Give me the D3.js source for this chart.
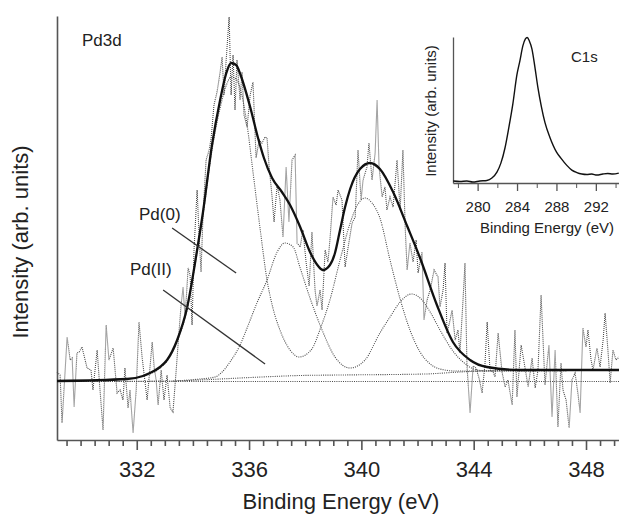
<!DOCTYPE html>
<html>
<head>
<meta charset="utf-8">
<script src="https://cdn.jsdelivr.net/npm/d3@7"></script>
<style>
  body { margin: 0; background: #fff; }
  svg { display: block; }
  text { font-family: "Liberation Sans", Arial, sans-serif; fill: #222; }
</style>
</head>
<body>
<svg id="chart" width="619" height="515"></svg>
<script>
// Pd3d raw spectrum (binding energy in eV, intensity in arb. units)
const rawEnergy = [329.16,329.27,329.34,329.52,329.63,329.70,329.77,329.87,329.95,330.05,330.23,330.37,330.44,330.59,330.66,330.80,330.91,331.01,331.16,331.30,331.41,331.51,331.58,331.69,331.76,331.87,331.98,332.08,332.19,332.37,332.55,332.62,332.69,332.76,332.87,332.97,333.08,333.19,333.29,333.40,333.51,333.58,333.65,333.72,333.83,333.90,333.97,334.04,334.15,334.22,334.29,334.36,334.47,334.58,334.65,334.75,334.86,334.97,335.04,335.11,335.18,335.29,335.36,335.43,335.50,335.57,335.68,335.75,335.82,335.93,336.04,336.14,336.25,336.36,336.46,336.57,336.64,336.71,336.82,336.89,337.00,337.10,337.21,337.32,337.42,337.53,337.64,337.71,337.82,337.92,338.03,338.14,338.24,338.35,338.42,338.53,338.60,338.71,338.81,338.88,338.99,339.10,339.17,339.31,339.42,339.53,339.67,339.78,339.88,339.99,340.06,340.20,340.27,340.38,340.49,340.56,340.63,340.74,340.84,340.91,341.02,341.13,341.27,341.38,341.48,341.56,341.63,341.73,341.84,341.95,342.02,342.16,342.23,342.34,342.45,342.59,342.73,342.80,342.91,342.98,343.05,343.16,343.23,343.34,343.44,343.51,343.62,343.69,343.76,343.87,343.98,344.08,344.19,344.30,344.40,344.48,344.58,344.69,344.76,344.87,345.01,345.12,345.22,345.37,345.47,345.54,345.69,345.83,345.94,346.08,346.19,346.29,346.40,346.54,346.68,346.79,346.90,347.00,347.11,347.18,347.29,347.40,347.50,347.61,347.72,347.79,347.89,348.00,348.07,348.18,348.25,348.39,348.50,348.61,348.68,348.78,348.86,348.96,349.07,349.18];
const rawCounts = [68,65,17,103,80,82,33,87,88,93,72,70,50,90,62,10,115,80,92,47,50,40,72,32,50,7,50,118,83,40,98,73,60,35,70,40,65,32,28,68,110,135,153,122,172,165,115,190,250,205,168,225,280,290,302,335,348,368,383,345,378,423,345,385,330,380,340,368,325,313,345,358,282,300,297,303,302,275,243,218,255,240,203,273,218,280,285,197,193,210,178,154,208,150,134,150,130,190,178,200,243,235,250,240,173,193,217,223,290,240,260,273,297,260,287,340,273,243,253,230,243,233,280,230,290,213,170,197,178,200,167,188,120,140,150,170,163,133,150,177,107,120,130,100,110,87,140,177,75,27,74,72,62,47,75,118,70,68,63,107,68,53,60,35,110,43,95,72,53,82,52,70,145,55,95,23,90,13,77,50,40,12,60,67,45,27,112,93,110,80,70,92,73,100,127,90,57,90,80,83];

// fitted envelope
const envEnergy = [329.16,331.65,332.22,332.47,332.83,333.08,333.44,333.79,334.15,334.36,334.68,334.97,335.18,335.36,335.54,335.71,336.03,336.32,336.53,336.82,337.17,337.46,337.82,338.17,338.46,338.63,338.88,339.06,339.24,339.42,339.60,339.95,340.31,340.66,341.13,341.63,342.09,342.69,343.26,343.87,344.47,345.65,349.18];
const envCounts = [59,61,64,67,73,80,100,132,190,228,295,340,366,377,375,364,334,302,282,262,248,235,213,188,174,170,175,187,210,233,251,271,277,271,248,214,182,135,98,80,73,70,70];

// Pd(0) doublet component
const pd0Energy = [332.47,332.83,333.08,333.44,333.79,334.15,334.36,334.68,334.97,335.18,335.36,335.54,335.68,335.93,336.14,336.39,336.64,336.85,337.10,337.46,337.78,338.21,338.56,338.88,339.24,339.60,339.88,340.13,340.38,340.66,341.02,341.38,341.73,342.09,342.45,342.80,343.34,344.58,349.18];
const pd0Counts = [66,72,79,99,130,188,225,290,332,354,363,361,352,315,268,212,160,132,110,90,83,90,113,140,180,217,236,242,237,222,180,141,110,88,76,71,69,69,70];

// Pd(II) doublet component
const pd2Energy = [333.29,334.25,334.79,335.04,335.32,335.68,335.93,336.28,336.64,337.00,337.28,337.57,337.82,338.17,338.60,339.06,339.60,340.13,340.66,341.02,341.38,341.79,342.09,342.45,342.80,343.26,343.62,344.12,344.58,349.18];
const pd2Counts = [59,61,63,68,78,95,112,137,160,188,197,193,172,142,110,83,72,80,107,123,138,146,142,128,110,89,78,70,69,70];

// Shirley background and linear baseline
const bgEnergy = [329.16,333.29,334.25,334.97,336.04,336.85,337.82,339.24,342.27,343.51,344.94,349.18];
const bgCounts = [58.5,59,60,61,62.5,63.5,64.5,65,66,68,69.5,70];
const baseEnergy = [329.16,349.18];
const baseCounts = [58.5,58.5];

// inset: C1s
const c1sEnergy = [277.53,278.2,278.91,279.52,280.23,280.94,281.45,281.96,282.36,282.77,283.17,283.58,283.99,284.29,284.59,284.85,285.03,285.25,285.51,285.81,286.12,286.47,286.83,287.33,288.01,288.45,289.03,289.56,290.07,290.58,291.08,291.59,292.1,292.71,293.21,293.72,294.33];
const c1sCounts = [2,1.5,2,1,2,2.5,5,11,20,35,56,80,109,123,138,145,146.5,143,135,117,96,77,61,46,31,25,18,13,10.5,9,8.5,9,8,9,9.5,9,10];

// ticks
const mainMajor = [332,336,340,344,348];
const mainMinor = [329.5,330,330.5,331,331.5,332.5,333,333.5,334,334.5,335,335.5,336.5,337,337.5,338,338.5,339,339.5,340.5,341,341.5,342,342.5,343,343.5,344.5,345,345.5,346,346.5,347,347.5,348.5,349];
const insetMajor = [280,284,288,292];
const insetMinor = [278,282,286,290,294];

// labels and leader lines (data coordinates)
const labels = [
  { text: "Pd3d", e: 330.05, c: 394 },
  { text: "Pd(0)", e: 332.08, c: 220 },
  { text: "Pd(II)", e: 331.76, c: 165 }
];
const leaders = [
  { e1: 333.26, c1: 212, e2: 335.54, c2: 167 },
  { e1: 332.94, c1: 150, e2: 336.57, c2: 76 }
];

const svg = d3.select("#chart");

// main scales
const x = d3.scaleLinear().domain([329.16, 349.2]).range([57, 619.7]);
const y = d3.scaleLinear().domain([0, 424]).range([440, 16]);

const zip = (e, c) => e.map((v, i) => [v, c[i]]);
const line = d3.line().x(d => x(d[0])).y(d => y(d[1]));
const smooth = d3.line().x(d => x(d[0])).y(d => y(d[1])).curve(d3.curveMonotoneX);

// axes
const xAxis = svg.append("g")
  .attr("transform", `translate(0,${y(0)})`)
  .call(d3.axisBottom(x).tickValues(mainMajor).tickFormat(d3.format("d"))
    .tickSize(10).tickSizeOuter(0).tickPadding(11));
svg.append("g")
  .attr("transform", `translate(0,${y(0)})`)
  .call(d3.axisBottom(x).tickValues(mainMinor).tickFormat("").tickSize(6).tickSizeOuter(0))
  .select(".domain").remove();
svg.append("g")
  .attr("transform", `translate(${x(329.16)},0)`)
  .call(d3.axisLeft(y).tickValues([]).tickSizeOuter(0));

svg.selectAll(".domain, .tick line").attr("stroke", "#555").attr("stroke-width", 1.6);
xAxis.selectAll("text").style("font-size", "22px").attr("fill", "#222");

// axis titles
svg.append("text")
  .attr("x", 341).attr("y", 509)
  .attr("text-anchor", "middle")
  .style("font-size", "22px")
  .text("Binding Energy (eV)");
svg.append("text")
  .attr("transform", "translate(28,242) rotate(-90)")
  .attr("text-anchor", "middle")
  .style("font-size", "22px")
  .text("Intensity (arb. units)");

// raw data
svg.append("path")
  .datum(zip(rawEnergy, rawCounts))
  .attr("d", line)
  .attr("fill", "none")
  .attr("stroke", "#4a4a4a")
  .attr("stroke-width", 1.1)
  .attr("stroke-dasharray", "1,1");

// backgrounds and components
[[baseEnergy, baseCounts], [bgEnergy, bgCounts], [pd0Energy, pd0Counts], [pd2Energy, pd2Counts]]
  .forEach(([e, c]) => {
    svg.append("path")
      .datum(zip(e, c))
      .attr("d", smooth)
      .attr("fill", "none")
      .attr("stroke", "#4a4a4a")
      .attr("stroke-width", 1.1)
      .attr("stroke-dasharray", "1,1.2");
  });

// envelope
svg.append("path")
  .datum(zip(envEnergy, envCounts))
  .attr("d", smooth)
  .attr("fill", "none")
  .attr("stroke", "#111")
  .attr("stroke-width", 2.3);

// leader lines and labels
svg.selectAll(".leader")
  .data(leaders)
  .enter().append("line")
  .attr("x1", d => x(d.e1)).attr("y1", d => y(d.c1))
  .attr("x2", d => x(d.e2)).attr("y2", d => y(d.c2))
  .attr("stroke", "#333")
  .attr("stroke-width", 1.3);

svg.selectAll(".label")
  .data(labels)
  .enter().append("text")
  .attr("x", d => x(d.e)).attr("y", d => y(d.c))
  .style("font-size", "17px")
  .text(d => d.text);

// inset C1s
const xi = d3.scaleLinear().domain([277.5, 294.35]).range([453, 619]);
const yi = d3.scaleLinear().domain([0, 147]).range([183, 37]);

const xiAxis = svg.append("g")
  .attr("transform", `translate(0,${yi(0)})`)
  .call(d3.axisBottom(xi).tickValues(insetMajor).tickFormat(d3.format("d"))
    .tickSize(8).tickSizeOuter(0).tickPadding(10));
svg.append("g")
  .attr("transform", `translate(0,${yi(0)})`)
  .call(d3.axisBottom(xi).tickValues(insetMinor).tickFormat("").tickSize(5).tickSizeOuter(0))
  .select(".domain").remove();
const yiAxis = svg.append("g")
  .attr("transform", `translate(${xi(277.5)},0)`)
  .call(d3.axisLeft(yi).tickValues([]).tickSizeOuter(0));

xiAxis.selectAll("text").style("font-size", "15px").attr("fill", "#222");
svg.selectAll(".domain, .tick line").attr("stroke", "#555");
xiAxis.selectAll(".domain, .tick line").attr("stroke-width", 1.3);
yiAxis.selectAll(".domain").attr("stroke-width", 1.3);

svg.append("path")
  .datum(zip(c1sEnergy, c1sCounts))
  .attr("d", d3.line().x(d => xi(d[0])).y(d => yi(d[1])).curve(d3.curveMonotoneX))
  .attr("fill", "none")
  .attr("stroke", "#111")
  .attr("stroke-width", 1.4);

svg.append("text")
  .attr("x", 547).attr("y", 233)
  .attr("text-anchor", "middle")
  .style("font-size", "15px")
  .text("Binding Energy (eV)");
svg.append("text")
  .attr("transform", "translate(436,111) rotate(-90)")
  .attr("text-anchor", "middle")
  .style("font-size", "15px")
  .text("Intensity (arb. units)");
svg.append("text")
  .attr("x", 571).attr("y", 62)
  .style("font-size", "15px")
  .text("C1s");
</script>
</body>
</html>
